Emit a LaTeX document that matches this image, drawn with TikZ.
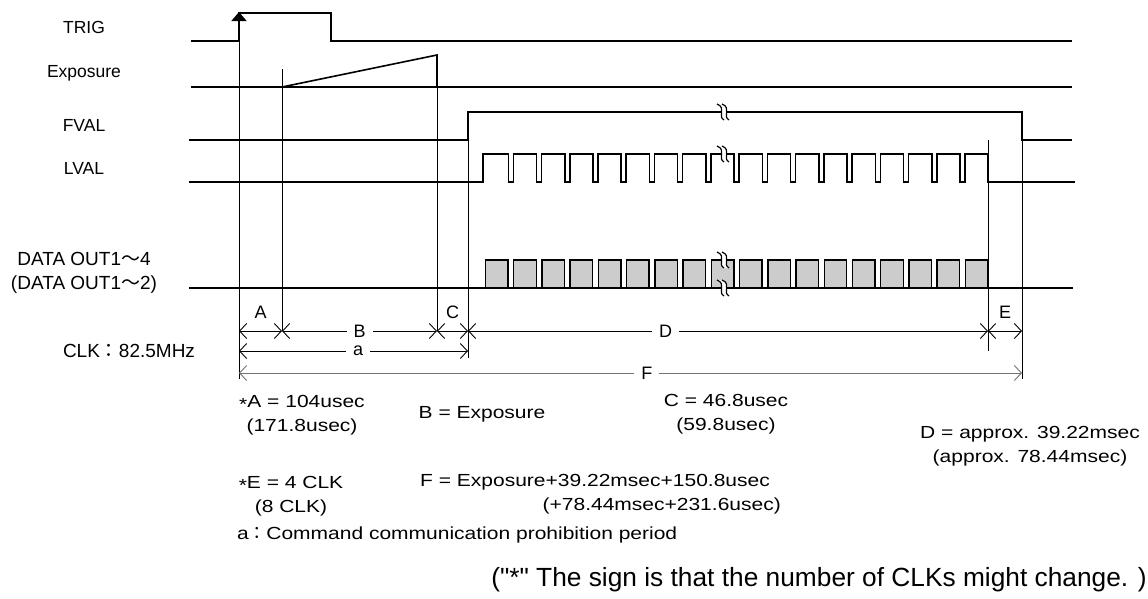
\documentclass[tikz,border=0pt]{standalone}
\usepackage{fontspec}
\setmainfont{Liberation Sans}
\newfontfamily\widefont[FakeStretch=1.2]{Liberation Sans}
\newfontfamily\cjk{Noto Sans CJK JP}
\usepackage{tikz}
\usetikzlibrary{arrows.meta}
\usetikzlibrary{positioning}
\tikzstyle{every node}+=[inner sep=0pt]
\tikzstyle{sig} = [draw, line width=1.6pt, line join=miter]
\tikzstyle{guide} = [draw, line width=0.9pt]
\tikzstyle{dimline} = [draw, line width=0.9pt, >={Straight Barb[length=7pt,width=15pt]}, <->]
\tikzstyle{dimgray} = [dimline, black!55]
\tikzstyle{signame} = [font=\fontsize{17.5}{24}\selectfont, align=center]
\tikzstyle{biglbl} = [font=\fontsize{19}{24}\selectfont, align=center]
\tikzstyle{dimlbl} = [font=\fontsize{18}{21}\selectfont]
\tikzstyle{gap} = [dimlbl, fill=white, inner xsep=7pt, inner ysep=2pt]
\tikzstyle{txt} = [font=\widefont\fontsize{17.5}{24}\selectfont, align=center]
\tikzstyle{remark} = [font=\fontsize{26.3}{30}\selectfont]
\tikzstyle{databox} = [draw, fill=black!20, line width=1.4pt]
\tikzstyle{brk} = [draw, line width=1.2pt]
\newcommand{\brkmark}[2]{%
  \begin{scope}[shift={(#1,#2)}]
    \fill[white] (-6,-8) .. controls (4,-4) and (-6,4) .. (1,8) -- (6,8) .. controls (-1,4) and (9,-4) .. (-1,-8) -- cycle;
    \draw[brk] (-6,-8) .. controls (4,-4) and (-6,4) .. (1,8);
    \draw[brk] (-1,-8) .. controls (9,-4) and (-1,4) .. (6,8);
  \end{scope}}
\newcommand{\starmark}{\raisebox{-0.3ex}{*}}

\begin{document}
\begin{tikzpicture}[x=1pt, y=-1pt]
            \useasboundingbox (0,0) rectangle (1148,598);
            % Place nodes
            \node [signame] (trig) at (84,27) {TRIG};
            \node [signame] (expo) at (84,73) {Exposure};
            \node [signame] (fval) at (84,125) {FVAL};
            \node [signame] (lval) at (84,168) {LVAL};
            \node [biglbl] (dout) at (84,273) {DATA OUT1{\cjk ～}4\\(DATA OUT1{\cjk ～}2)};
            \node [biglbl] (clk) at (129,351) {CLK{\cjk ：}82.5MHz};
            \node [txt] (vA) at (302,415) {\starmark A = 104usec\\(171.8usec)};
            \node [txt] (vB) at (482,414) {B = Exposure};
            \node [txt] (vC) at (726,414) {C = 46.8usec\\(59.8usec)};
            \node [txt] (vD) at (1030,446) {D = approx. 39.22msec\\(approx. 78.44msec)};
            \node [txt] (vE) at (291,496) {\starmark E = 4 CLK\\(8 CLK)};
            \node [txt, anchor=west] (vF) at (420,482) {F = Exposure+39.22msec+150.8usec};
            \node [txt, anchor=east] (vFb) at (781,506) {(+78.44msec+231.6usec)};
            \node [txt, anchor=west] (va) at (237,535) {a{\cjk ：}Command communication prohibition period};
            \node [remark, anchor=east] (note) at (1147,580) {(\textquotedbl*\textquotedbl{} The sign is that the number of CLKs might change. )};
            % Guide lines
            \draw [guide] (239,41) -- (239,379);
            \draw [guide] (282,69) -- (282,331);
            \draw [guide] (437,87) -- (437,331);
            \draw [guide] (468,140) -- (468,358);
            \draw [guide] (988,140) -- (988,351);
            \draw [guide] (1022,140) -- (1022,379);
            % Signals
            \draw [sig] (191,41) -- (239,41) -- (239,13) -- (331,13) -- (331,41) -- (1072,41);
            \draw [line width=1.6pt, -{Triangle[width=15pt,length=9pt]}] (239,30) -- (239,12);
            \draw [sig] (191,87) -- (1072,87);
            \draw [sig] (282,87) -- (437,55) -- (437,87);
            \draw [sig] (189,140) -- (468,140) -- (468,112) -- (1022,112) -- (1022,140) -- (1072,140);
            \draw [sig] (189,182) -- (483,182) -- (483,154)
              \foreach \k in {0,...,16} { -- ({508.3+28.23*\k},154) -- ++(0,28) -- ++(5,0) -- ++(0,-28) }
              -- (988,154) -- (988,182) -- (1075,182);
            \draw [sig] (189,288) -- (1073,288);
            \foreach \k in {0,...,17}
              \draw [databox] ({485.5+28.23*\k},260) rectangle ++(22.5,28);
            \brkmark{723}{112}
            \brkmark{723}{154}
            \brkmark{723}{260}
            \brkmark{723}{288}
            % Dimensions
            \coordinate (pA) at (239,331);
            \coordinate (pB) at (282,331);
            \coordinate (pC) at (437,331);
            \coordinate (pD) at (468,331);
            \coordinate (pE) at (988,331);
            \coordinate (pF) at (1022,331);
            \coordinate (qA) at (239,351);
            \coordinate (qD) at (468,351);
            \coordinate (uA) at (239,373);
            \coordinate (uF) at (1022,373);
            \path [dimline] (pA) -- node [dimlbl, above=12pt] {A} (pB);
            \path [dimline] (pB) -- node [gap] {B} (pC);
            \path [dimline] (pC) -- node [dimlbl, above=12pt] {C} (pD);
            \path [dimline] (pD) -- node [gap, pos=0.38] {D} (pE);
            \path [dimline] (pE) -- node [dimlbl, above=12pt] {E} (pF);
            \path [dimline] (qA) -- node [gap, pos=0.52] {a} (qD);
            \path [dimgray] (uA) -- node [gap, text=black, pos=0.521] {F} (uF);
\end{tikzpicture}
\end{document}
